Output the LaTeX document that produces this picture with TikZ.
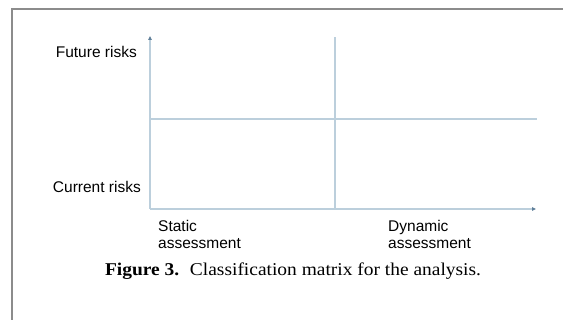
\documentclass[tikz,border=0pt]{standalone}
\usepackage{fontspec}
\setmainfont{Liberation Serif}
\setsansfont{Liberation Sans}
\usetikzlibrary{arrows.meta}
\definecolor{axiscol}{HTML}{BCCFDC}
\definecolor{tipcol}{HTML}{5F7F99}
\definecolor{framecol}{HTML}{8C8C8C}
\tikzset{
  axisline/.style={draw=axiscol, line width=1.1pt},
  axisarrow/.style={axisline, -{Triangle[length=4pt,width=3.5pt,fill=tipcol,color=tipcol]}},
  lbl/.style={font=\sffamily\fontsize{15.5}{17.5}\selectfont, inner sep=0pt, text=black},
  caption/.style={font=\rmfamily\fontsize{18}{20}\selectfont\addfontfeature{FakeStretch=1.08}, inner sep=0pt}
}
\begin{document}
\begin{tikzpicture}[x=1pt,y=-1pt]
\useasboundingbox (0,0) rectangle (563,320);
% frame
\draw[framecol, line width=2pt] (12,320) -- (12,9) -- (563,9);
% axes
\coordinate (O) at (150,209);
\coordinate (ytop) at (150,36);
\coordinate (xend) at (536,209);
\coordinate (vtop) at (335,37);
\coordinate (vbot) at (335,209);
\coordinate (hl) at (150,119);
\coordinate (hr) at (537,119);
\draw[axisline] (vbot) -- (vtop);
\draw[axisline] (hl) -- (hr);
\draw[axisarrow] (O) -- (ytop);
\draw[axisarrow] (O) -- (xend);
% labels
\node[lbl, anchor=east] (fut) at (137,52) {Future risks};
\node[lbl, anchor=east] (cur) at (141,187) {Current risks};
\node[lbl, anchor=north west, align=left] (stat) at (158,220) {Static\\assessment};
\node[lbl, anchor=north west, align=left] (dyn) at (388,220) {Dynamic\\assessment};
\node[caption] (cap) at (293,271) {\textbf{Figure 3.}\hspace{0.6em}Classification matrix for the analysis.};
\end{tikzpicture}
\end{document}
